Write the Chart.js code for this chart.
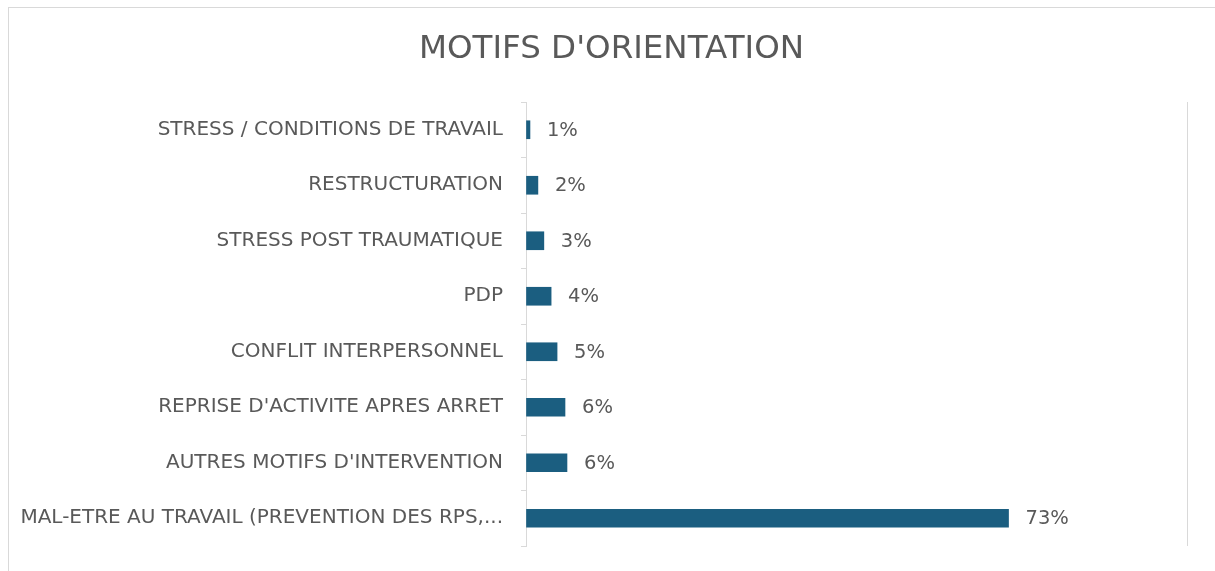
<!DOCTYPE html>
<html>
<head>
<meta charset="utf-8">
<script src="https://cdn.jsdelivr.net/npm/chart.js@4"></script>
<style>
  body { margin: 0; background: #fff; overflow: hidden; }
  .cadre { position: absolute; left: 8px; top: 7px; width: 1300px; height: 600px; border: 1px solid #d9d9d9; }
  .zone { position: absolute; left: 0; top: 0; width: 1215px; height: 576px; }
</style>
</head>
<body>
<div class="cadre"></div>
<div class="zone"><canvas id="grafico-motifs"></canvas></div>
<script>
const categories = [
  'STRESS / CONDITIONS DE TRAVAIL',
  'RESTRUCTURATION',
  'STRESS POST TRAUMATIQUE',
  'PDP',
  'CONFLIT INTERPERSONNEL',
  "REPRISE D'ACTIVITE APRES ARRET",
  "AUTRES MOTIFS D'INTERVENTION",
  'MAL-ETRE AU TRAVAIL (PREVENTION DES RPS,...'
];
const valeurs = [0.6, 1.8, 2.7, 3.8, 4.7, 5.9, 6.2, 73];
const etiquettes = ['1%', '2%', '3%', '4%', '5%', '6%', '6%', '73%'];
const titre = "MOTIFS D'ORIENTATION";

const corTexto = '#595959';
const fonte = 'DejaVu Sans';

// titre centre un peu a droite, comme dans Excel
const pluginTitre = {
  id: 'titre',
  afterDraw(chart) {
    const ctx = chart.ctx;
    ctx.save();
    ctx.font = '32.5px "' + fonte + '"';
    ctx.fillStyle = corTexto;
    ctx.textAlign = 'center';
    ctx.textBaseline = 'middle';
    ctx.fillText(titre, 611.5, 50);
    ctx.restore();
  }
};

// etiquettes de donnees a droite des barres
const pluginEtiquettes = {
  id: 'etiquettes',
  afterDatasetsDraw(chart) {
    const ctx = chart.ctx;
    const meta = chart.getDatasetMeta(0);
    ctx.save();
    ctx.font = '19.5px "' + fonte + '"';
    ctx.fillStyle = corTexto;
    ctx.textBaseline = 'middle';
    ctx.textAlign = 'left';
    meta.data.forEach((barra, i) => {
      ctx.fillText(etiquettes[i], barra.x + 17, barra.y + 1);
    });
    ctx.restore();
  }
};

const ctxMotifs = document.getElementById('grafico-motifs').getContext('2d');
const graficoMotifs = new Chart(ctxMotifs, {
  type: 'bar',
  data: {
    labels: categories,
    datasets: [{
      data: valeurs,
      backgroundColor: '#1b5e80',
      borderWidth: 0,
      barThickness: 18
    }]
  },
  options: {
    indexAxis: 'y',
    responsive: true,
    maintainAspectRatio: false,
    animation: false,
    layout: {
      padding: { left: 0, right: 28, top: 102, bottom: 20 }
    },
    plugins: {
      legend: { display: false },
      tooltip: { enabled: false },
      title: { display: false }
    },
    scales: {
      x: {
        min: 0,
        max: 100,
        display: true,
        afterFit: (escala) => { escala.height = 0; },
        ticks: { display: false, stepSize: 100 },
        border: { display: false },
        grid: {
          drawTicks: false,
          color: (c) => c.tick && c.tick.value === 100 ? '#d9d9d9' : 'rgba(0,0,0,0)'
        }
      },
      y: {
        afterFit: (escala) => { escala.width = 526; },
        ticks: {
          color: corTexto,
          font: { family: fonte, size: 20 },
          padding: 18
        },
        border: { display: true, color: '#d9d9d9' },
        grid: {
          offset: true,
          drawOnChartArea: false,
          drawTicks: true,
          tickLength: 5,
          color: '#d9d9d9'
        }
      }
    }
  },
  plugins: [pluginEtiquettes, pluginTitre]
});
</script>
</body>
</html>
